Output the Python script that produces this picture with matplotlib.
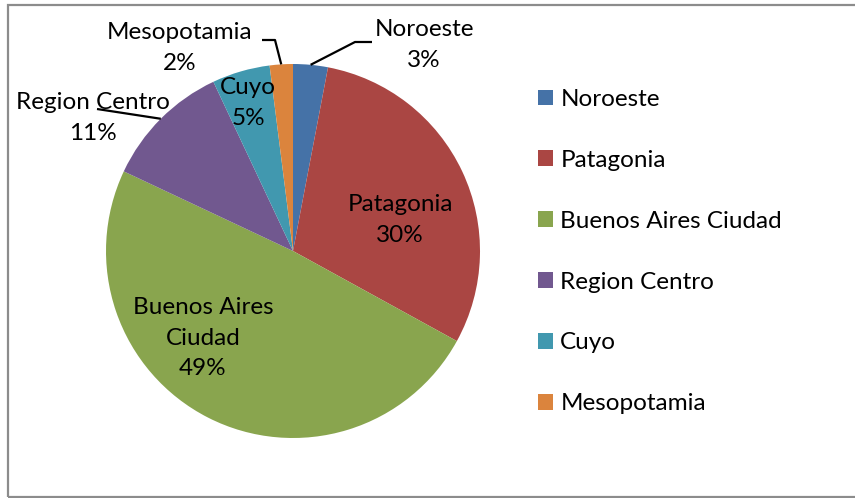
import matplotlib.pyplot as plt
from matplotlib.patches import Rectangle
import numpy as np

regions = ["Noroeste", "Patagonia", "Buenos Aires Ciudad", "Region Centro", "Cuyo", "Mesopotamia"]
shares = [3, 30, 49, 11, 5, 2]
colors = ["#4572A7", "#AA4643", "#89A54E", "#71588F", "#4198AF", "#DB843D"]
label_text = ["Noroeste\n3%", "Patagonia\n30%", "Buenos Aires\nCiudad\n49%",
              "Region Centro\n11%", "Cuyo\n5%", "Mesopotamia\n2%"]

plt.rcParams['font.family'] = ['Lato', 'DejaVu Sans']

W, H = 855, 498
fig = plt.figure(figsize=(W / 100, H / 100), dpi=100)
ax = fig.add_axes([0, 0, 1, 1])

# frame around the chart area
ax.add_patch(Rectangle((8, 1), W + 10, H - 6, fill=False, edgecolor='#8c8c8c', lw=1.6))

cx, cy, R = 293, H - 251, 187
wedges, _ = ax.pie(shares, colors=colors, startangle=90, counterclock=False,
                   center=(cx, cy), radius=R, frame=True,
                   wedgeprops=dict(linewidth=0))
ax.set_xlim(0, W)
ax.set_ylim(0, H)
ax.set_aspect('equal')
ax.axis('off')

fs = 17.5
# label placement (pixel coords from top-left)
label_pos = [(424, 45), (400, 220), (203, 338), (93, 118), (248, 103), (180, 48)]
for txt, (px, py) in zip(label_text, label_pos):
    ax.text(px, H - py, txt, ha='center', va='center', fontsize=fs,
            linespacing=1.55, color='black')

# leader lines for outside labels
cum = np.cumsum([0] + shares[:-1])
def edge_point(i):
    mid = cum[i] + shares[i] / 2
    ang = np.deg2rad(90 - 360 * mid / sum(shares))
    return cx + R * np.cos(ang), cy + R * np.sin(ang)

leaders = {0: [(355, 42), (372, 42)], 5: [(275, 40), (262, 40)], 3: [(97, 109)]}
for i, pts in leaders.items():
    x0, y0 = edge_point(i)
    xs = [x0] + [p[0] for p in pts]
    ys = [y0] + [H - p[1] for p in pts]
    ax.plot(xs, ys, color='black', lw=1.6, solid_capstyle='butt')

ax.legend(wedges, regions, loc='upper left', bbox_to_anchor=(538 / W, 1 - 89 / H),
          frameon=False, fontsize=fs, handlelength=0.62, handleheight=0.62,
          handletextpad=0.3, labelspacing=1.64, borderaxespad=0, borderpad=0)

fig.savefig('out.png', dpi=100)
